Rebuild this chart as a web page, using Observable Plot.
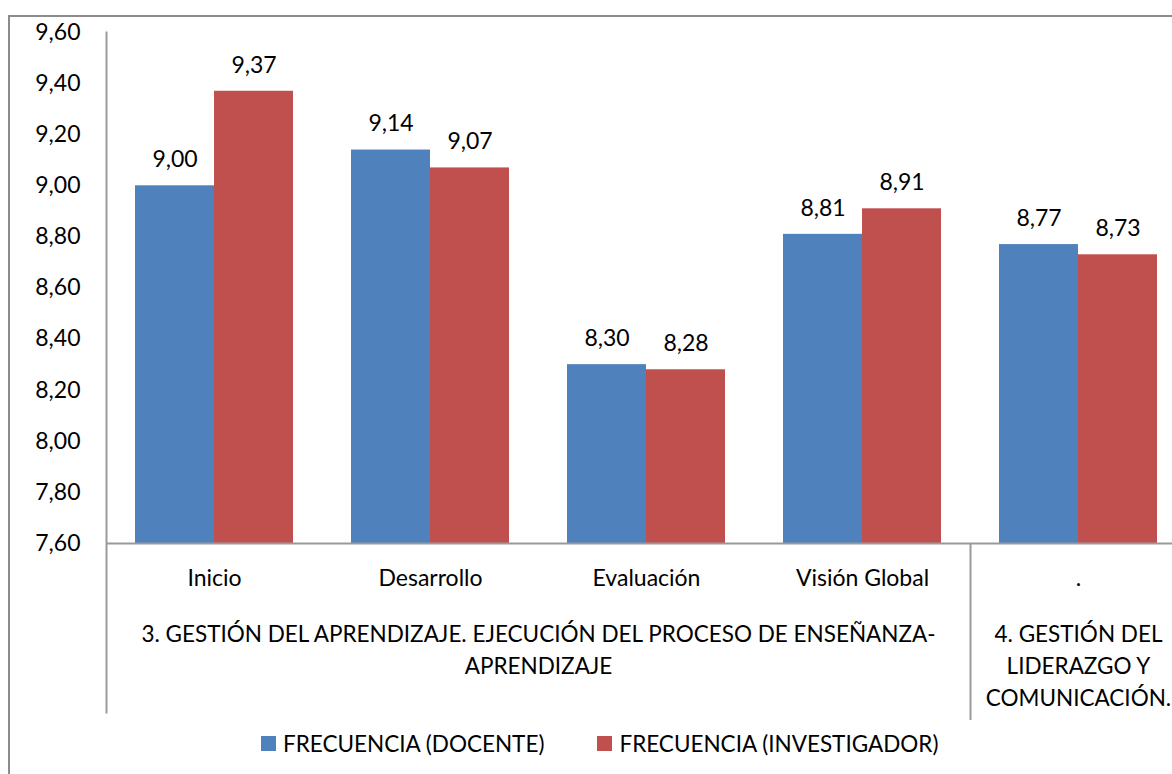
<!DOCTYPE html>
<html>
<head>
<meta charset="utf-8">
<script src="https://cdn.jsdelivr.net/npm/d3@7"></script>
<script src="https://cdn.jsdelivr.net/npm/@observablehq/plot@0.6"></script>
<style>
  body { margin: 0; background: #fff; }
  #wrap { position: relative; width: 1172px; height: 774px; overflow: hidden; font-family: Lato, "Open Sans", sans-serif; }
  #border { position: absolute; left: 8px; top: 15px; width: 1300px; height: 900px; border: 2px solid #8c8c8c; box-sizing: border-box; }
  #chart { position: absolute; left: 0; top: 0; }
  #legend { position: absolute; left: 261px; top: 728px; height: 30px; display: flex; align-items: center; font-size: 22.5px; color: #000; white-space: nowrap; }
  .sw { display: inline-block; width: 15px; height: 15px; margin-right: 7px; }
  .item { display: flex; align-items: center; }
  .item + .item { margin-left: 53px; }
</style>
</head>
<body>
<div id="wrap">
  <div id="border"></div>
  <div id="chart"></div>
  <div id="legend"></div>
</div>
<script>
// Categories and values
const categories = ["Inicio", "Desarrollo", "Evaluación", "Visión Global", "."];
const docente = [9.00, 9.14, 8.30, 8.81, 8.77];
const investigador = [9.37, 9.07, 8.28, 8.91, 8.73];
const seriesNames = ["FRECUENCIA (DOCENTE)", "FRECUENCIA (INVESTIGADOR)"];
const seriesColors = ["#4F81BD", "#C0504D"];
const yTicks = [7.6, 7.8, 8.0, 8.2, 8.4, 8.6, 8.8, 9.0, 9.2, 9.4, 9.6];
const groupLabels = [
  "3. GESTIÓN DEL APRENDIZAJE. EJECUCIÓN DEL PROCESO DE ENSEÑANZA-\nAPRENDIZAJE",
  "4. GESTIÓN DEL\nLIDERAZGO Y\nCOMUNICACIÓN."
];
// first and last category covered by each group
const groupSpans = [["Inicio", "Visión Global"], [".", "."]];

const fmt = v => v.toFixed(2).replace(".", ",");

// layout
const W = 1172, H = 720;
const plotLeft = 106, step = 216, plotTop = 32, plotBase = 543;
const yMin = yTicks[0], yMax = yTicks[yTicks.length - 1];
const pad = step * 29 / 216;        // gap between band edge and bar
const barW = (step - 2 * pad) / 2;  // width of one bar
const fs = 23, fsCaps = 22.5;

const rowsD = categories.map((c, i) => ({c, v: docente[i]}));
const rowsI = categories.map((c, i) => ({c, v: investigador[i]}));
const idx = Object.fromEntries(categories.map((c, i) => [c, i]));
const groups = groupLabels.map((label, k) => {
  const a = idx[groupSpans[k][0]], b = idx[groupSpans[k][1]];
  return {label, c: categories[a], off: (b - a) * step / 2};
});

const axisGray = "#9a9a9a";

const plot = Plot.plot({
  width: W,
  height: H,
  marginLeft: plotLeft,
  marginRight: 0,
  marginTop: plotTop,
  marginBottom: 8,
  style: {fontFamily: "Lato, 'Open Sans', sans-serif", fontSize: fs + "px", color: "#000", background: "transparent"},
  x: {type: "band", domain: categories, range: [plotLeft, plotLeft + step * categories.length], padding: 0, axis: null},
  y: {domain: [yMin, yMax], range: [plotBase, plotTop], axis: null},
  marks: [
    // y axis line, running down through the category label area
    Plot.frame({anchor: "left", stroke: axisGray, strokeWidth: 2}),
    // separator between the two groups
    Plot.ruleX(groups.slice(1), {x: "c", dx: -step / 2, y1: yMin, stroke: axisGray, strokeWidth: 2}),
    Plot.barY(rowsD, {x: "c", y1: yMin, y2: "v", fill: seriesColors[0], insetLeft: pad, insetRight: pad + barW}),
    Plot.barY(rowsI, {x: "c", y1: yMin, y2: "v", fill: seriesColors[1], insetLeft: pad + barW, insetRight: pad}),
    Plot.ruleY([yMin], {stroke: axisGray, strokeWidth: 2}),
    Plot.axisY({ticks: yTicks, tickSize: 0, tickPadding: 26, tickFormat: fmt, fontSize: fs, fill: "#000", label: null}),
    Plot.text(rowsD, {x: "c", y: "v", text: d => fmt(d.v), dx: -barW / 2, dy: -26, fontSize: fs, fill: "#000"}),
    Plot.text(rowsI, {x: "c", y: "v", text: d => fmt(d.v), dx: barW / 2, dy: -26, fontSize: fs, fill: "#000"}),
    // category labels
    Plot.text(categories, {x: d => d, y: yMin, text: d => d, dy: 35, fontSize: fs, fill: "#000"}),
    // group labels, centred under the categories they span
    ...groups.map(g => Plot.text([g], {x: "c", y: yMin, text: "label", dx: g.off, lineAnchor: "top", dy: 76, lineHeight: 1.42, fontSize: fsCaps, fill: "#000"}))
  ]
});
document.getElementById("chart").appendChild(plot);

// legend
const legend = document.getElementById("legend");
seriesNames.forEach((n, i) => {
  const it = document.createElement("div");
  it.className = "item";
  it.innerHTML = `<span class="sw" style="background:${seriesColors[i]}"></span><span>${n}</span>`;
  legend.appendChild(it);
});
</script>
</body>
</html>
